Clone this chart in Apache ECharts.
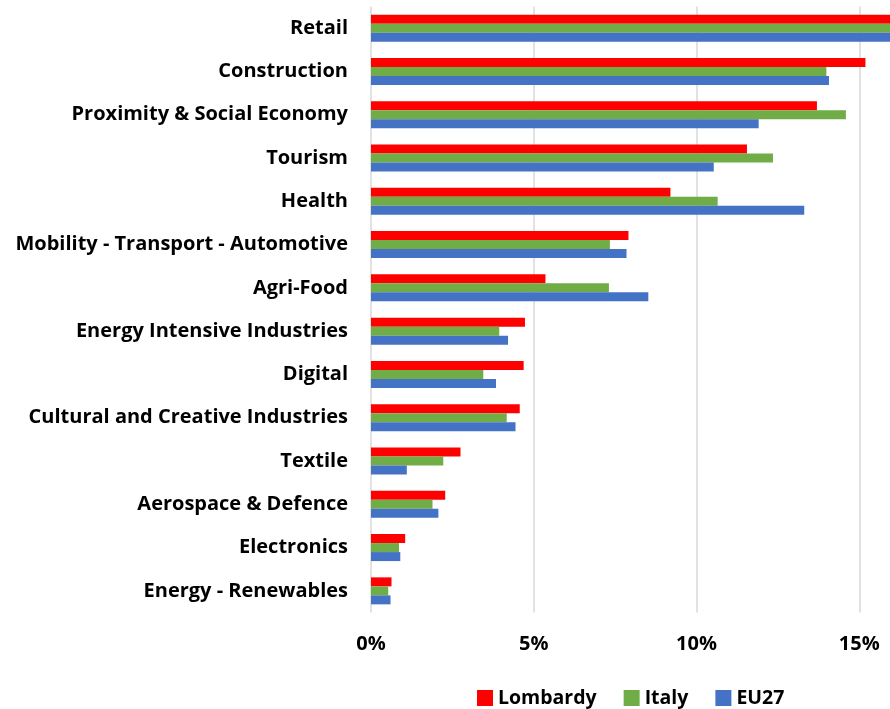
<!DOCTYPE html>
<html>
<head>
<meta charset="utf-8">
<script src="https://cdn.jsdelivr.net/npm/echarts@6/dist/echarts.min.js"></script>
<style>
  html, body { margin: 0; padding: 0; background: #fff; }
  #chart { width: 890px; height: 709px; }
</style>
</head>
<body>
<div id="chart"></div>
<script>
// sectors, top to bottom
const categories = [
  'Retail', 'Construction', 'Proximity & Social Economy', 'Tourism', 'Health',
  'Mobility - Transport - Automotive', 'Agri-Food', 'Energy Intensive Industries',
  'Digital', 'Cultural and Creative Industries', 'Textile', 'Aerospace & Defence',
  'Electronics', 'Energy - Renewables',
];
// share of employment, % (Retail runs off the right edge in the source)
const lombardy = [17.0, 15.19, 13.70, 11.55, 9.20, 7.91, 5.36, 4.73, 4.69, 4.57, 2.75, 2.28, 1.05, 0.63];
const italy    = [16.6, 13.99, 14.59, 12.35, 10.65, 7.34, 7.31, 3.94, 3.45, 4.17, 2.22, 1.89, 0.86, 0.53];
const eu27     = [16.4, 14.07, 11.91, 10.53, 13.31, 7.85, 8.52, 4.21, 3.84, 4.44, 1.10, 2.07, 0.90, 0.60];
const xTicks = [0, 5, 10, 15, 20];

const FONT = '"Open Sans", sans-serif';
const colors = { Lombardy: '#ff0000', Italy: '#70ad47', EU27: '#4472c4' };

const chart = echarts.init(document.getElementById('chart'));

function barSeries(name, data) {
  return {
    name,
    type: 'bar',
    data,
    barWidth: 9,
    barGap: '0%',
    itemStyle: { color: colors[name] },
  };
}

chart.setOption({
  animation: false,
  textStyle: { fontFamily: FONT },
  // the axis runs past the right edge of the picture, as in the source
  grid: { left: 371, top: 6.5, bottom: 96.5, right: -132, outerBoundsMode: 'none' },
  xAxis: {
    type: 'value',
    min: xTicks[0],
    max: xTicks[xTicks.length - 1],
    interval: 5,
    axisLine: { show: false },
    axisTick: { show: false },
    axisLabel: {
      color: '#000', fontSize: 20, fontWeight: 'bold', margin: 22,
      formatter: (v) => v + '%',
    },
    splitLine: { lineStyle: { color: '#d9d9d9', width: 1.5 } },
  },
  yAxis: {
    type: 'category',
    data: categories,
    inverse: true,
    axisLine: { show: false },
    axisTick: { show: false },
    axisLabel: { color: '#000', fontSize: 20, fontWeight: 'bold', margin: 23 },
  },
  legend: {
    top: 683,
    left: 472,
    itemWidth: 16,
    itemHeight: 16,
    itemGap: 27,
    icon: 'rect',
    textStyle: { color: '#000', fontSize: 19.5, fontWeight: 'bold' },
    data: ['Lombardy', 'Italy', 'EU27'],
  },
  series: [
    barSeries('Lombardy', lombardy),
    barSeries('Italy', italy),
    barSeries('EU27', eu27),
  ],
});
</script>
</body>
</html>
